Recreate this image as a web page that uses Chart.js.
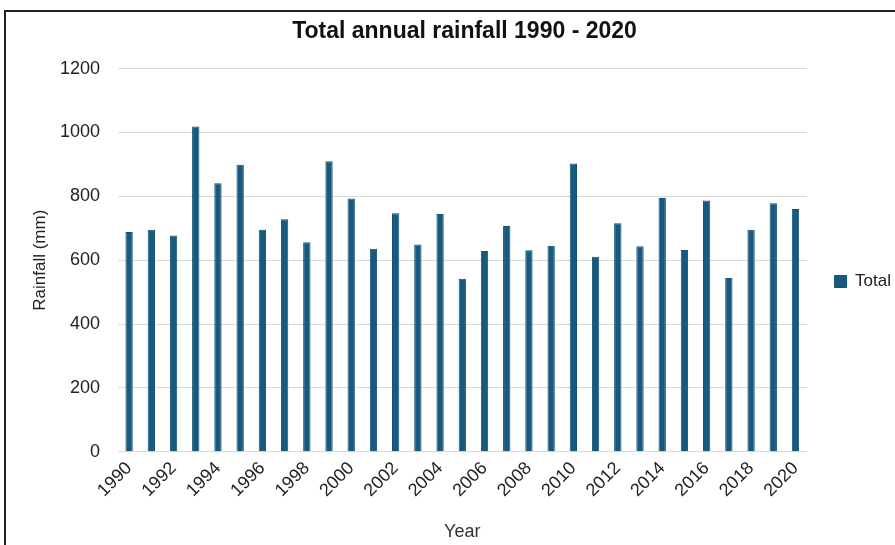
<!DOCTYPE html>
<html>
<head>
<meta charset="utf-8">
<script src="https://cdn.jsdelivr.net/npm/chart.js@4.4.1/dist/chart.umd.min.js"></script>
<style>
  html, body { margin: 0; padding: 0; background: #fff; overflow: hidden; }
  #frame {
    position: absolute; left: 4px; top: 10px;
    width: 1000px; height: 700px;
    border-left: 2px solid #222; border-top: 2px solid #222;
  }
  #wrap { position: absolute; left: 0; top: 0; width: 901px; height: 545px; }
</style>
</head>
<body>
<div id="frame"></div>
<div id="wrap"><canvas id="rain"></canvas></div>
<script>
'use strict';
// yearly totals, 1990 - 2020
var years = [];
for (var y = 1990; y <= 2020; y++) years.push(String(y));

var totals = [
  688, 695, 677, 1019, 841, 899, 695, 728, 656, 910,
  793, 636, 747, 649, 745, 542, 629, 707, 631, 645,
  903, 611, 716, 644, 795, 632, 787, 544, 695, 778,
  760
];

var yTicks = [0, 200, 400, 600, 800, 1000, 1200];

var fontFamily = "'Liberation Sans', Arial, sans-serif";

var ctx = document.getElementById('rain');
new Chart(ctx, {
  type: 'bar',
  data: {
    labels: years,
    datasets: [{
      label: 'Total',
      data: totals,
      backgroundColor: '#175a7e',
      borderColor: '#135274',
      borderWidth: 1,
      barPercentage: 0.33,
      categoryPercentage: 1
    }]
  },
  options: {
    responsive: true,
    maintainAspectRatio: false,
    animation: false,
    layout: { padding: { top: 18, left: 28, right: 0, bottom: 0 } },
    plugins: {
      title: {
        display: true,
        text: 'Total annual rainfall 1990 - 2020',
        color: '#111',
        font: { family: fontFamily, size: 23, weight: 'bold' },
        padding: { top: 0, bottom: 23 }
      },
      legend: {
        position: 'right',
        labels: {
          boxWidth: 12, boxHeight: 12,
          color: '#222',
          font: { family: fontFamily, size: 17 },
          padding: 28
        }
      },
      tooltip: { enabled: false }
    },
    scales: {
      x: {
        grid: { display: false, drawTicks: false },
        border: { display: false },
        // let the slanted year labels hang into the left margin
        afterFit: function (axis) { axis.paddingLeft = 0; axis.paddingRight = 0; },
        title: {
          display: true, text: 'Year', color: '#333',
          font: { family: fontFamily, size: 18 }, padding: { top: 14, bottom: 2 }
        },
        ticks: {
          autoSkip: false,
          maxRotation: 45, minRotation: 45,
          padding: 6,
          color: '#222',
          font: { family: fontFamily, size: 18 },
          callback: function (v, i) { return i % 2 === 0 ? years[i] : ''; }
        }
      },
      y: {
        min: 0, max: 1200,
        afterBuildTicks: function (axis) {
          axis.ticks = yTicks.map(function (v) { return { value: v }; });
        },
        afterFit: function (axis) { axis.width = 90; },
        grid: { color: '#d9d9d9', lineWidth: 1, drawTicks: false },
        border: { display: false },
        title: {
          display: true, text: 'Rainfall (mm)', color: '#222',
          font: { family: fontFamily, size: 17 }, padding: { top: 2, bottom: 6 }
        },
        ticks: {
          color: '#222', padding: 18,
          font: { family: fontFamily, size: 18 },
          callback: function (v) { return String(v); }
        }
      }
    }
  }
});
</script>
</body>
</html>
